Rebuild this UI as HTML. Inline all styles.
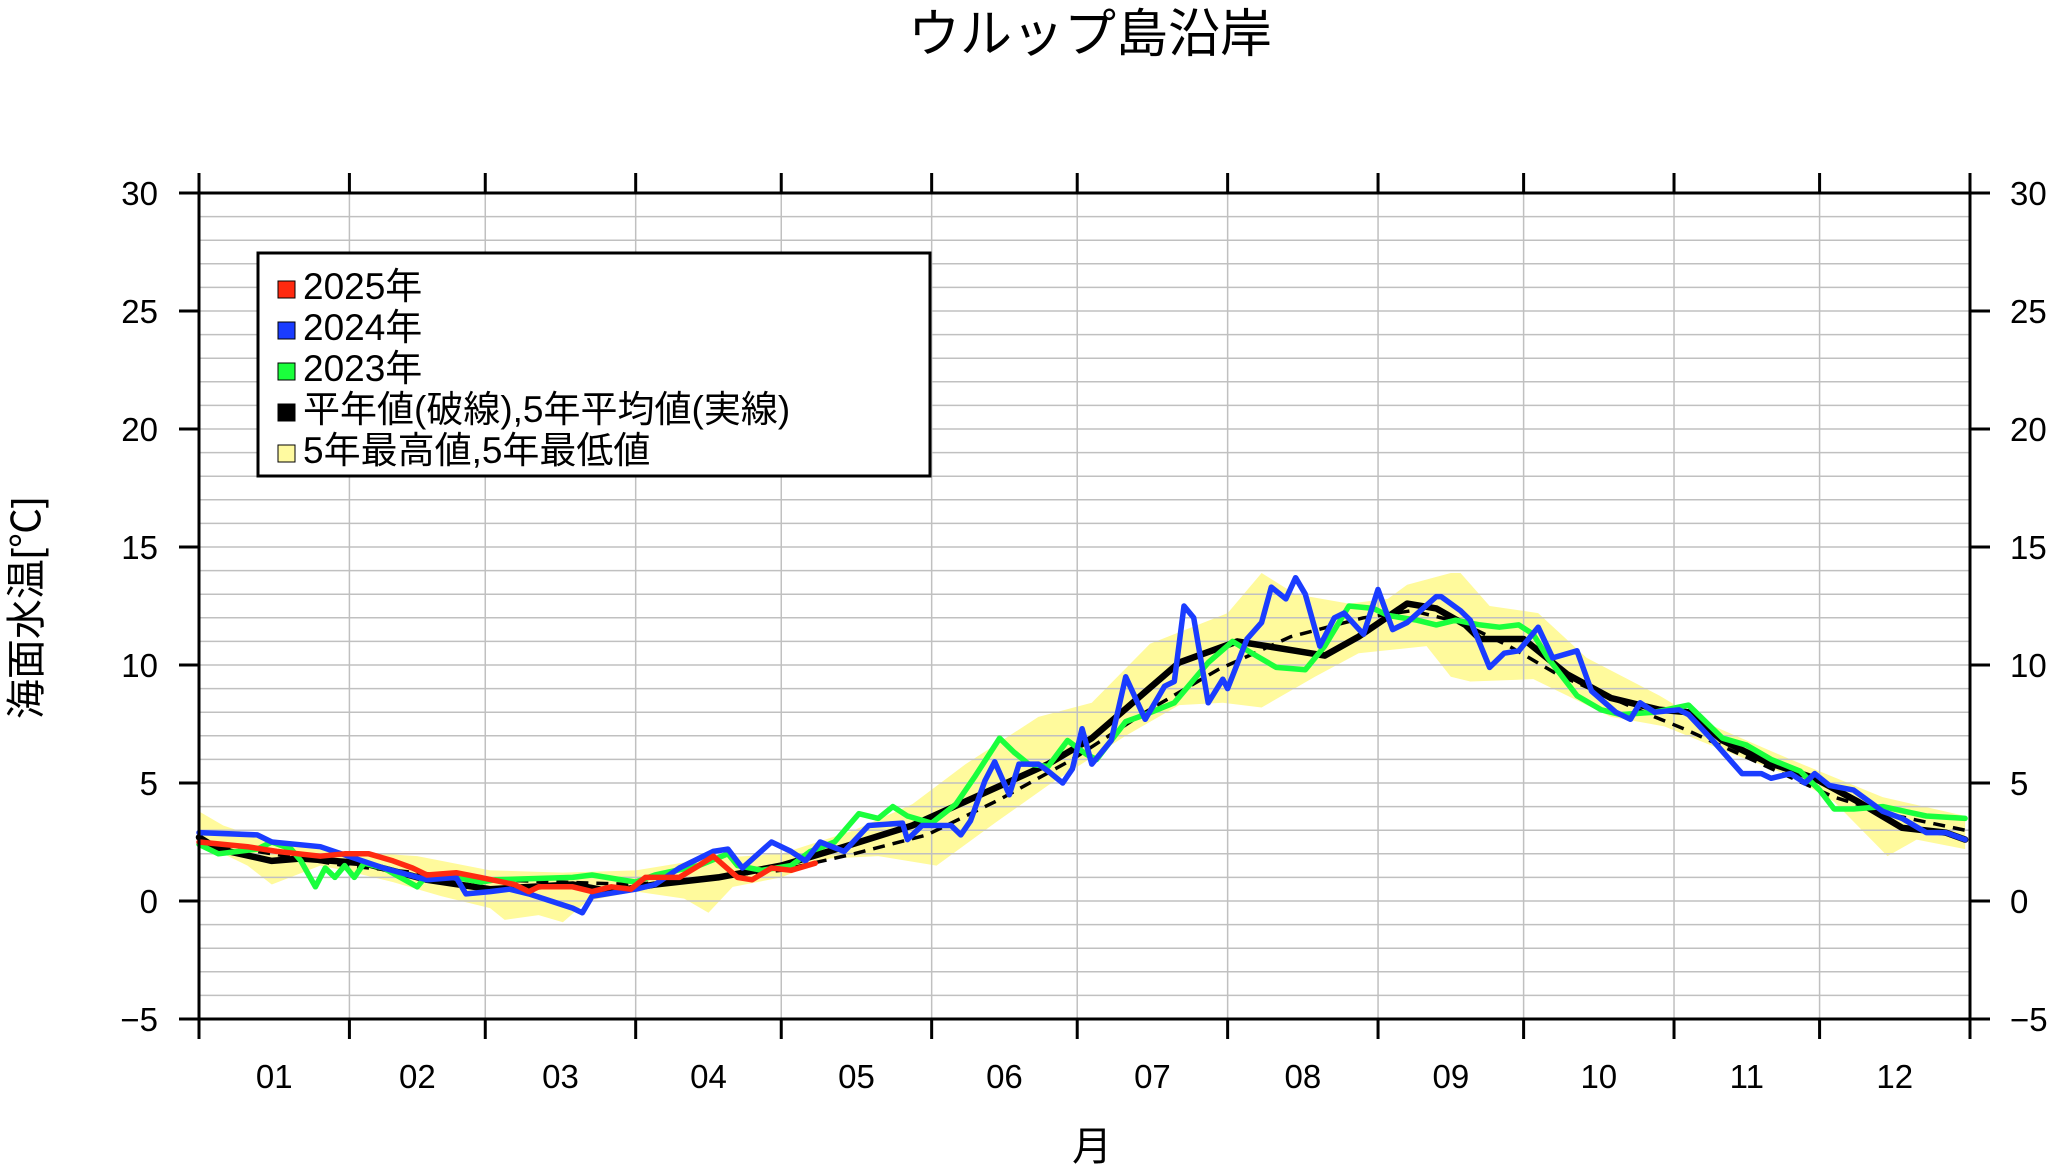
<!DOCTYPE html>
<html><head><meta charset="utf-8">
<style>
html,body{margin:0;padding:0;background:#fff;}
svg{display:block;font-family:"Liberation Sans","Noto Sans CJK JP",sans-serif;}
</style></head>
<body>
<svg id="chart" width="2051" height="1167" viewBox="0 0 2051 1167" xmlns="http://www.w3.org/2000/svg">
<rect x="0" y="0" width="2051" height="1167" fill="#fff"/>
<text x="1090" y="52" font-size="52" text-anchor="middle">ウルップ島沿岸</text>
<g id="band"></g>
<g id="grid"></g>
<g id="series"></g>
<g id="axes"></g>
<text x="1092" y="1160" font-size="40" text-anchor="middle">月</text>
<text x="0" y="0" font-size="40" text-anchor="middle" transform="translate(40,608) rotate(-90)">海面水温[℃]</text>
<g>
<rect x="258" y="253" width="672" height="223" fill="#fff" stroke="#000" stroke-width="3"/>
<g><rect x="278" y="281" width="17" height="17" fill="#ff2a10" stroke="#000" stroke-width="1"/><text x="303" y="299" font-size="37">2025年</text></g>
<g><rect x="278" y="322" width="17" height="17" fill="#1a3cff" stroke="#000" stroke-width="1"/><text x="303" y="340" font-size="37">2024年</text></g>
<g><rect x="278" y="363" width="17" height="17" fill="#1aff3c" stroke="#000" stroke-width="1"/><text x="303" y="381" font-size="37">2023年</text></g>
<g><rect x="278" y="404" width="17" height="17" fill="#000" stroke="#000" stroke-width="1"/><text x="303" y="422" font-size="37">平年値(破線),5年平均値(実線)</text></g>
<g><rect x="278" y="445" width="17" height="17" fill="#fffaa0" stroke="#000" stroke-width="1"/><text x="303" y="463" font-size="37">5年最高値,5年最低値</text></g>
</g>
</svg>
<script>
const monthLabels = ["01","02","03","04","05","06","07","08","09","10","11","12"];
const monthStarts = [0,31,59,90,120,151,181,212,243,273,304,334,365];
const yTicks = [-5,0,5,10,15,20,25,30];
const s2025 = [[0,2.5],[5,2.4],[10,2.3],[16,2.1],[25,1.9],[30,2.0],[35,2.0],[40,1.7],[44,1.4],[47,1.1],[53,1.2],[58,1.0],[65,0.7],[68,0.4],[70,0.6],[77,0.6],[81,0.4],[85,0.6],[89,0.5],[92,1.0],[99,1.0],[103,1.5],[106,1.9],[111,1.0],[114,0.9],[118,1.4],[122,1.3],[127,1.6]];
const s2024 = [[0,2.9],[12,2.8],[15,2.5],[25,2.3],[38,1.4],[47,0.9],[53,1.0],[55,0.3],[60,0.4],[64,0.5],[68,0.3],[77,-0.3],[79,-0.5],[81,0.2],[90,0.5],[94,0.7],[99,1.4],[106,2.1],[109,2.2],[112,1.4],[118,2.5],[122,2.1],[125,1.7],[128,2.5],[133,2.1],[138,3.2],[145,3.3],[146,2.6],[149,3.2],[155,3.2],[157,2.8],[159,3.4],[162,5.1],[164,5.9],[167,4.5],[169,5.8],[173,5.8],[175,5.5],[178,5.0],[180,5.6],[182,7.3],[184,5.8],[188,6.8],[191,9.5],[195,7.7],[199,9.1],[201,9.3],[203,12.5],[205,12.0],[208,8.4],[211,9.4],[212,9.0],[216,11.1],[219,11.8],[221,13.3],[224,12.8],[226,13.7],[228,13.0],[231,10.8],[234,12.0],[236,12.2],[240,11.3],[243,13.2],[246,11.5],[249,11.8],[255,12.9],[256,12.9],[260,12.3],[262,11.9],[266,9.9],[269,10.5],[272,10.6],[276,11.6],[279,10.3],[284,10.6],[287,8.9],[292,8.0],[295,7.7],[297,8.4],[300,8.0],[305,8.1],[307,7.9],[312,6.8],[318,5.4],[322,5.4],[324,5.2],[328,5.4],[331,5.0],[333,5.4],[336,4.9],[341,4.7],[347,3.8],[351,3.5],[356,2.9],[360,2.9],[364,2.6]];
const s2023 = [[0,2.4],[4,2.0],[12,2.2],[15,2.5],[19,2.2],[21,1.7],[24,0.6],[26,1.4],[28,1.0],[30,1.5],[32,1.0],[34,1.6],[38,1.4],[45,0.6],[47,1.1],[53,1.0],[58,0.8],[61,0.9],[77,1.0],[81,1.1],[90,0.8],[94,1.1],[103,1.5],[109,2.0],[111,1.5],[116,1.3],[122,1.5],[126,2.1],[131,2.5],[136,3.7],[140,3.5],[143,4.0],[146,3.6],[151,3.3],[156,4.1],[160,5.3],[165,6.9],[168,6.3],[171,5.8],[175,5.7],[179,6.8],[183,6.2],[185,6.0],[191,7.6],[195,7.9],[201,8.4],[208,10.1],[213,11.0],[217,10.5],[222,9.9],[228,9.8],[232,10.8],[237,12.5],[242,12.4],[245,12.1],[251,11.9],[255,11.7],[259,11.9],[264,11.7],[268,11.6],[272,11.7],[275,11.3],[278,10.3],[284,8.7],[289,8.1],[293,7.9],[300,8.0],[307,8.3],[314,6.9],[319,6.6],[324,6.0],[330,5.5],[334,4.7],[337,3.9],[341,3.9],[347,4.0],[356,3.6],[364,3.5]];
const mean5 = [[0,2.7],[4,2.2],[15,1.7],[21,1.8],[34,1.6],[47,0.9],[60,0.5],[77,0.7],[85,0.4],[94,0.7],[107,1.0],[120,1.5],[133,2.3],[147,3.2],[161,4.5],[175,5.8],[184,6.9],[193,8.5],[202,10.1],[214,11.0],[226,10.6],[232,10.4],[239,11.2],[249,12.6],[255,12.4],[261,11.7],[264,11.1],[273,11.1],[282,9.6],[291,8.6],[301,8.1],[307,8.0],[314,6.8],[323,5.9],[333,5.2],[342,4.2],[351,3.1],[360,2.9],[364,2.6]];
const normal = [[0,2.5],[30,1.5],[60,0.9],[90,0.7],[120,1.3],[135,2.0],[150,2.8],[165,4.3],[180,6.0],[195,8.0],[210,9.8],[225,11.2],[240,12.0],[250,12.3],[260,11.8],[270,10.8],[280,9.6],[290,8.7],[300,7.8],[306,7.3],[321,5.9],[337,4.4],[350,3.6],[364,3.0]];
const bandHigh = [[0,3.8],[5,3.2],[15,2.5],[30,2.1],[45,1.9],[60,1.3],[75,1.2],[90,1.3],[105,1.8],[120,2.0],[135,3.0],[147,4.1],[158,5.8],[173,7.8],[184,8.4],[196,10.9],[212,12.2],[219,13.9],[226,13.0],[237,12.6],[245,12.8],[249,13.4],[258,13.9],[260,13.9],[266,12.5],[276,12.2],[286,10.3],[301,8.7],[310,7.6],[328,6.0],[347,4.4],[364,3.6]];
const bandLow = [[0,2.5],[10,1.5],[15,0.7],[25,1.5],[30,1.3],[40,0.8],[50,0.2],[60,-0.3],[63,-0.8],[70,-0.6],[75,-0.9],[80,0.0],[90,0.4],[100,0.1],[105,-0.5],[110,0.6],[120,1.0],[130,1.8],[140,1.9],[152,1.5],[164,3.3],[175,4.9],[191,7.0],[202,8.3],[211,8.4],[219,8.2],[230,9.5],[239,10.5],[253,10.8],[258,9.5],[262,9.3],[275,9.4],[291,7.8],[302,7.4],[314,6.4],[328,5.3],[337,4.2],[348,1.9],[354,2.6],[364,2.2]];

const X0=199, X1=1970, Y0=193, Y1=1019;
function xs(d){return X0+d*(X1-X0)/365;}
function ys(v){return Y1-(v+5)*(Y1-Y0)/35;}
const NS="http://www.w3.org/2000/svg";
function mk(tag,attrs,parent){const e=document.createElementNS(NS,tag);for(const k in attrs)e.setAttribute(k,attrs[k]);parent.appendChild(e);return e;}
const grid=document.getElementById('grid'), axes=document.getElementById('axes'), series=document.getElementById('series'), band=document.getElementById('band');

let pts=bandHigh.map(p=>xs(p[0])+','+ys(p[1]));
pts=pts.concat(bandLow.slice().reverse().map(p=>xs(p[0])+','+ys(p[1])));
const bp=mk('polygon',{points:pts.join(' '),fill:'#fffa9c',stroke:'none'},band);



for(let v=-4;v<30;v++){const l=mk('line',{x1:X0,x2:X1,y1:ys(v),y2:ys(v),stroke:'#c0c0c0','stroke-width':1.5},grid);

}
for(let i=1;i<12;i++){const l=mk('line',{x1:xs(monthStarts[i]),x2:xs(monthStarts[i]),y1:Y0,y2:Y1,stroke:'#c0c0c0','stroke-width':1.5},grid);

}

function line(data,color,w,name,dash){const a={points:data.map(p=>xs(p[0]).toFixed(1)+','+ys(p[1]).toFixed(1)).join(' '),fill:'none',stroke:color,'stroke-width':w,'stroke-linejoin':'round','stroke-linecap':'round'};if(dash){a['stroke-dasharray']=dash;a['stroke-linecap']='butt';}const e=mk('polyline',a,series);

}
line(normal,'#000',3.5,'normal-dashed-line','12 8');
line(mean5,'#000',6.5,'five-year-mean-line');
line(s2023,'#1aff3c',5.5,'series-2023');
line(s2024,'#1a3cff',5.5,'series-2024');
line(s2025,'#ff2a10',5.5,'series-2025');

const fr=mk('rect',{x:X0,y:Y0,width:X1-X0,height:Y1-Y0,fill:'none',stroke:'#000','stroke-width':3},axes);


yTicks.forEach(v=>{
 const y=ys(v);
 const t1=mk('line',{x1:X0-20,x2:X0,y1:y,y2:y,stroke:'#000','stroke-width':3},axes);
 
 
 const t2=mk('line',{x1:X1,x2:X1+20,y1:y,y2:y,stroke:'#000','stroke-width':3},axes);
 
 
 const lab=(v<0?'\u2212'+(-v):''+v);
 const a=mk('text',{x:158,y:y+12,'font-size':33,'text-anchor':'end'},axes);a.textContent=lab;
 
 
 const b=mk('text',{x:2010,y:y+12,'font-size':33,'text-anchor':'start'},axes);b.textContent=lab;
 
 
});
monthStarts.forEach(d=>{
 const x=xs(d);
 const a=mk('line',{x1:x,x2:x,y1:Y0-20,y2:Y0,stroke:'#000','stroke-width':3},axes);
 
 
 const b=mk('line',{x1:x,x2:x,y1:Y1,y2:Y1+20,stroke:'#000','stroke-width':3},axes);
 
 
});
monthLabels.forEach((m,i)=>{
 const x=(xs(monthStarts[i])+xs(monthStarts[i+1]))/2;
 const t=mk('text',{x:x,y:1088,'font-size':33,'text-anchor':'middle'},axes);t.textContent=m;
 
 
});
</script>
</body></html>
